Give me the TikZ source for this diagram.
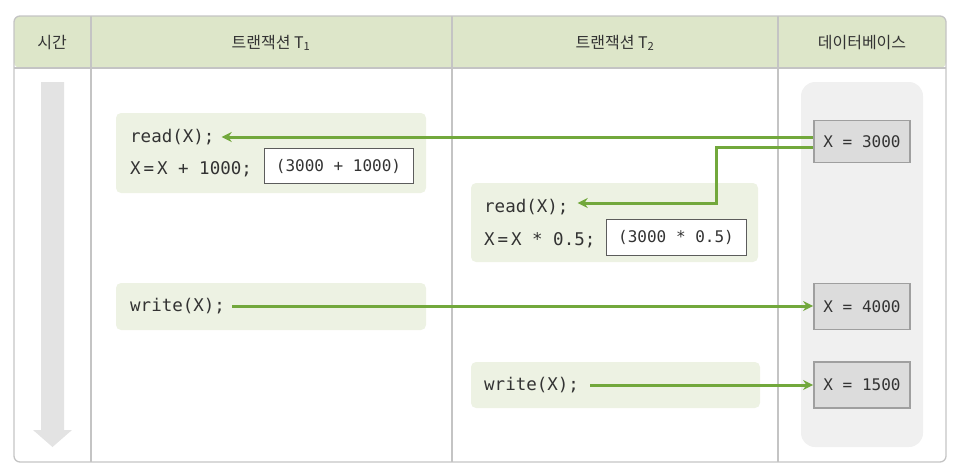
\documentclass[tikz,border=0pt]{standalone}
\usepackage{fontspec}
\setmonofont{DejaVu Sans Mono}
\newfontfamily\kr{Noto Sans CJK KR}
\usetikzlibrary{arrows.meta}
\definecolor{hdr}{HTML}{DDE6C9}
\definecolor{blk}{HTML}{EDF2E3}
\definecolor{grn}{HTML}{72A83C}
\definecolor{frm}{HTML}{C4C4C4}
\definecolor{dbp}{HTML}{F0F0F0}
\definecolor{dbb}{HTML}{DCDCDC}
\definecolor{txt}{HTML}{333333}
\begin{document}
\begin{tikzpicture}[x=1pt,y=-1pt,
  hdrtext/.style={font=\kr\fontsize{16}{18}\selectfont, text=txt},
  code/.style={font=\ttfamily\fontsize{17.5}{19}\selectfont, text=txt, anchor=west, inner sep=0pt},
  codeblk/.style={fill=blk, rounded corners=5pt, draw=none},
  valbox/.style={draw=txt!80, fill=white, line width=0.8pt, font=\ttfamily\fontsize{16}{18}\selectfont, text=txt},
  dbbox/.style={draw=gray!75, fill=dbb, line width=1.8pt, font=\ttfamily\fontsize{16}{18}\selectfont, text=txt, minimum width=96pt, minimum height=42pt, inner sep=0pt},
  flow/.style={draw=grn, line width=3pt, -{Stealth[length=10pt,width=10pt]}}
]
\useasboundingbox (0,0) rectangle (957,474);
% frame and header
\fill[hdr, rounded corners=6pt] (14,16) rectangle (946,68);
\draw[frm, line width=1.3pt, rounded corners=6pt] (14,16) rectangle (946,462);
\draw[frm, line width=1.3pt] (14,68) -- (946,68);
\draw[frm, line width=1.3pt] (91,16) -- (91,462);
\draw[frm, line width=1.3pt] (452,16) -- (452,462);
\draw[frm, line width=1.3pt] (778,16) -- (778,462);
\node[hdrtext] (h0) at (52,43) {시간};
\node[hdrtext] (h1) at (271,43) {트랜잭션 T\textsubscript{1}};
\node[hdrtext] (h2) at (615,43) {트랜잭션 T\textsubscript{2}};
\node[hdrtext] (h3) at (862,43) {데이터베이스};
% time arrow
\fill[black!11] (41,82) -- (64,82) -- (64,430) -- (72,430) -- (52.5,447) -- (33,430) -- (41,430) -- cycle;
% db panel
\fill[dbp, rounded corners=14pt] (801,82) rectangle (923,447);
% code blocks
\fill[codeblk] (116,113) rectangle (426,193);
\fill[codeblk] (471,183) rectangle (758,262);
\fill[codeblk] (116,283) rectangle (426,330);
\fill[codeblk] (471,362) rectangle (760,408);
\node[code] (r1) at (130,137) {read(X);};
\node[code] (c1) at (130,169) {X\,=\,X + 1000;};
\node[valbox, minimum width=149pt, minimum height=35pt, inner sep=0pt] (v1) at (338.5,166) {(3000 + 1000)};
\node[code] (r2) at (484,207) {read(X);};
\node[code] (c2) at (484,240) {X\,=\,X * 0.5;};
\node[valbox, minimum width=140pt, minimum height=36pt, inner sep=0pt] (v2) at (676,237) {(3000 * 0.5)};
\node[code] (w1) at (130,306) {write(X);};
\node[code] (w2) at (484,385) {write(X);};
% db values
\node[dbbox] (d1) at (862,141.5) {X = 3000};
\node[dbbox, minimum height=46pt] (d2) at (862,306.5) {X = 4000};
\node[dbbox, minimum height=46pt] (d3) at (862,385) {X = 1500};
% arrows
\coordinate (a1s) at (d1.west |- 0,137);
\coordinate (a2s) at (d1.west |- 0,147);
\coordinate (a2m) at (716,147);
\coordinate (a2n) at (716,203);
\draw[flow] (a1s) -- ([xshift=7pt]r1.east |- a1s);
\draw[flow] (a2s) -- (a2m) -- (a2n) -- ([xshift=9pt]r2.east |- a2n);
\draw[flow] ([xshift=7pt]w1.east) -- (d2.west |- w1.east);
\draw[flow] ([xshift=11pt]w2.east) -- (d3.west |- w2.east);
\end{tikzpicture}
\end{document}
